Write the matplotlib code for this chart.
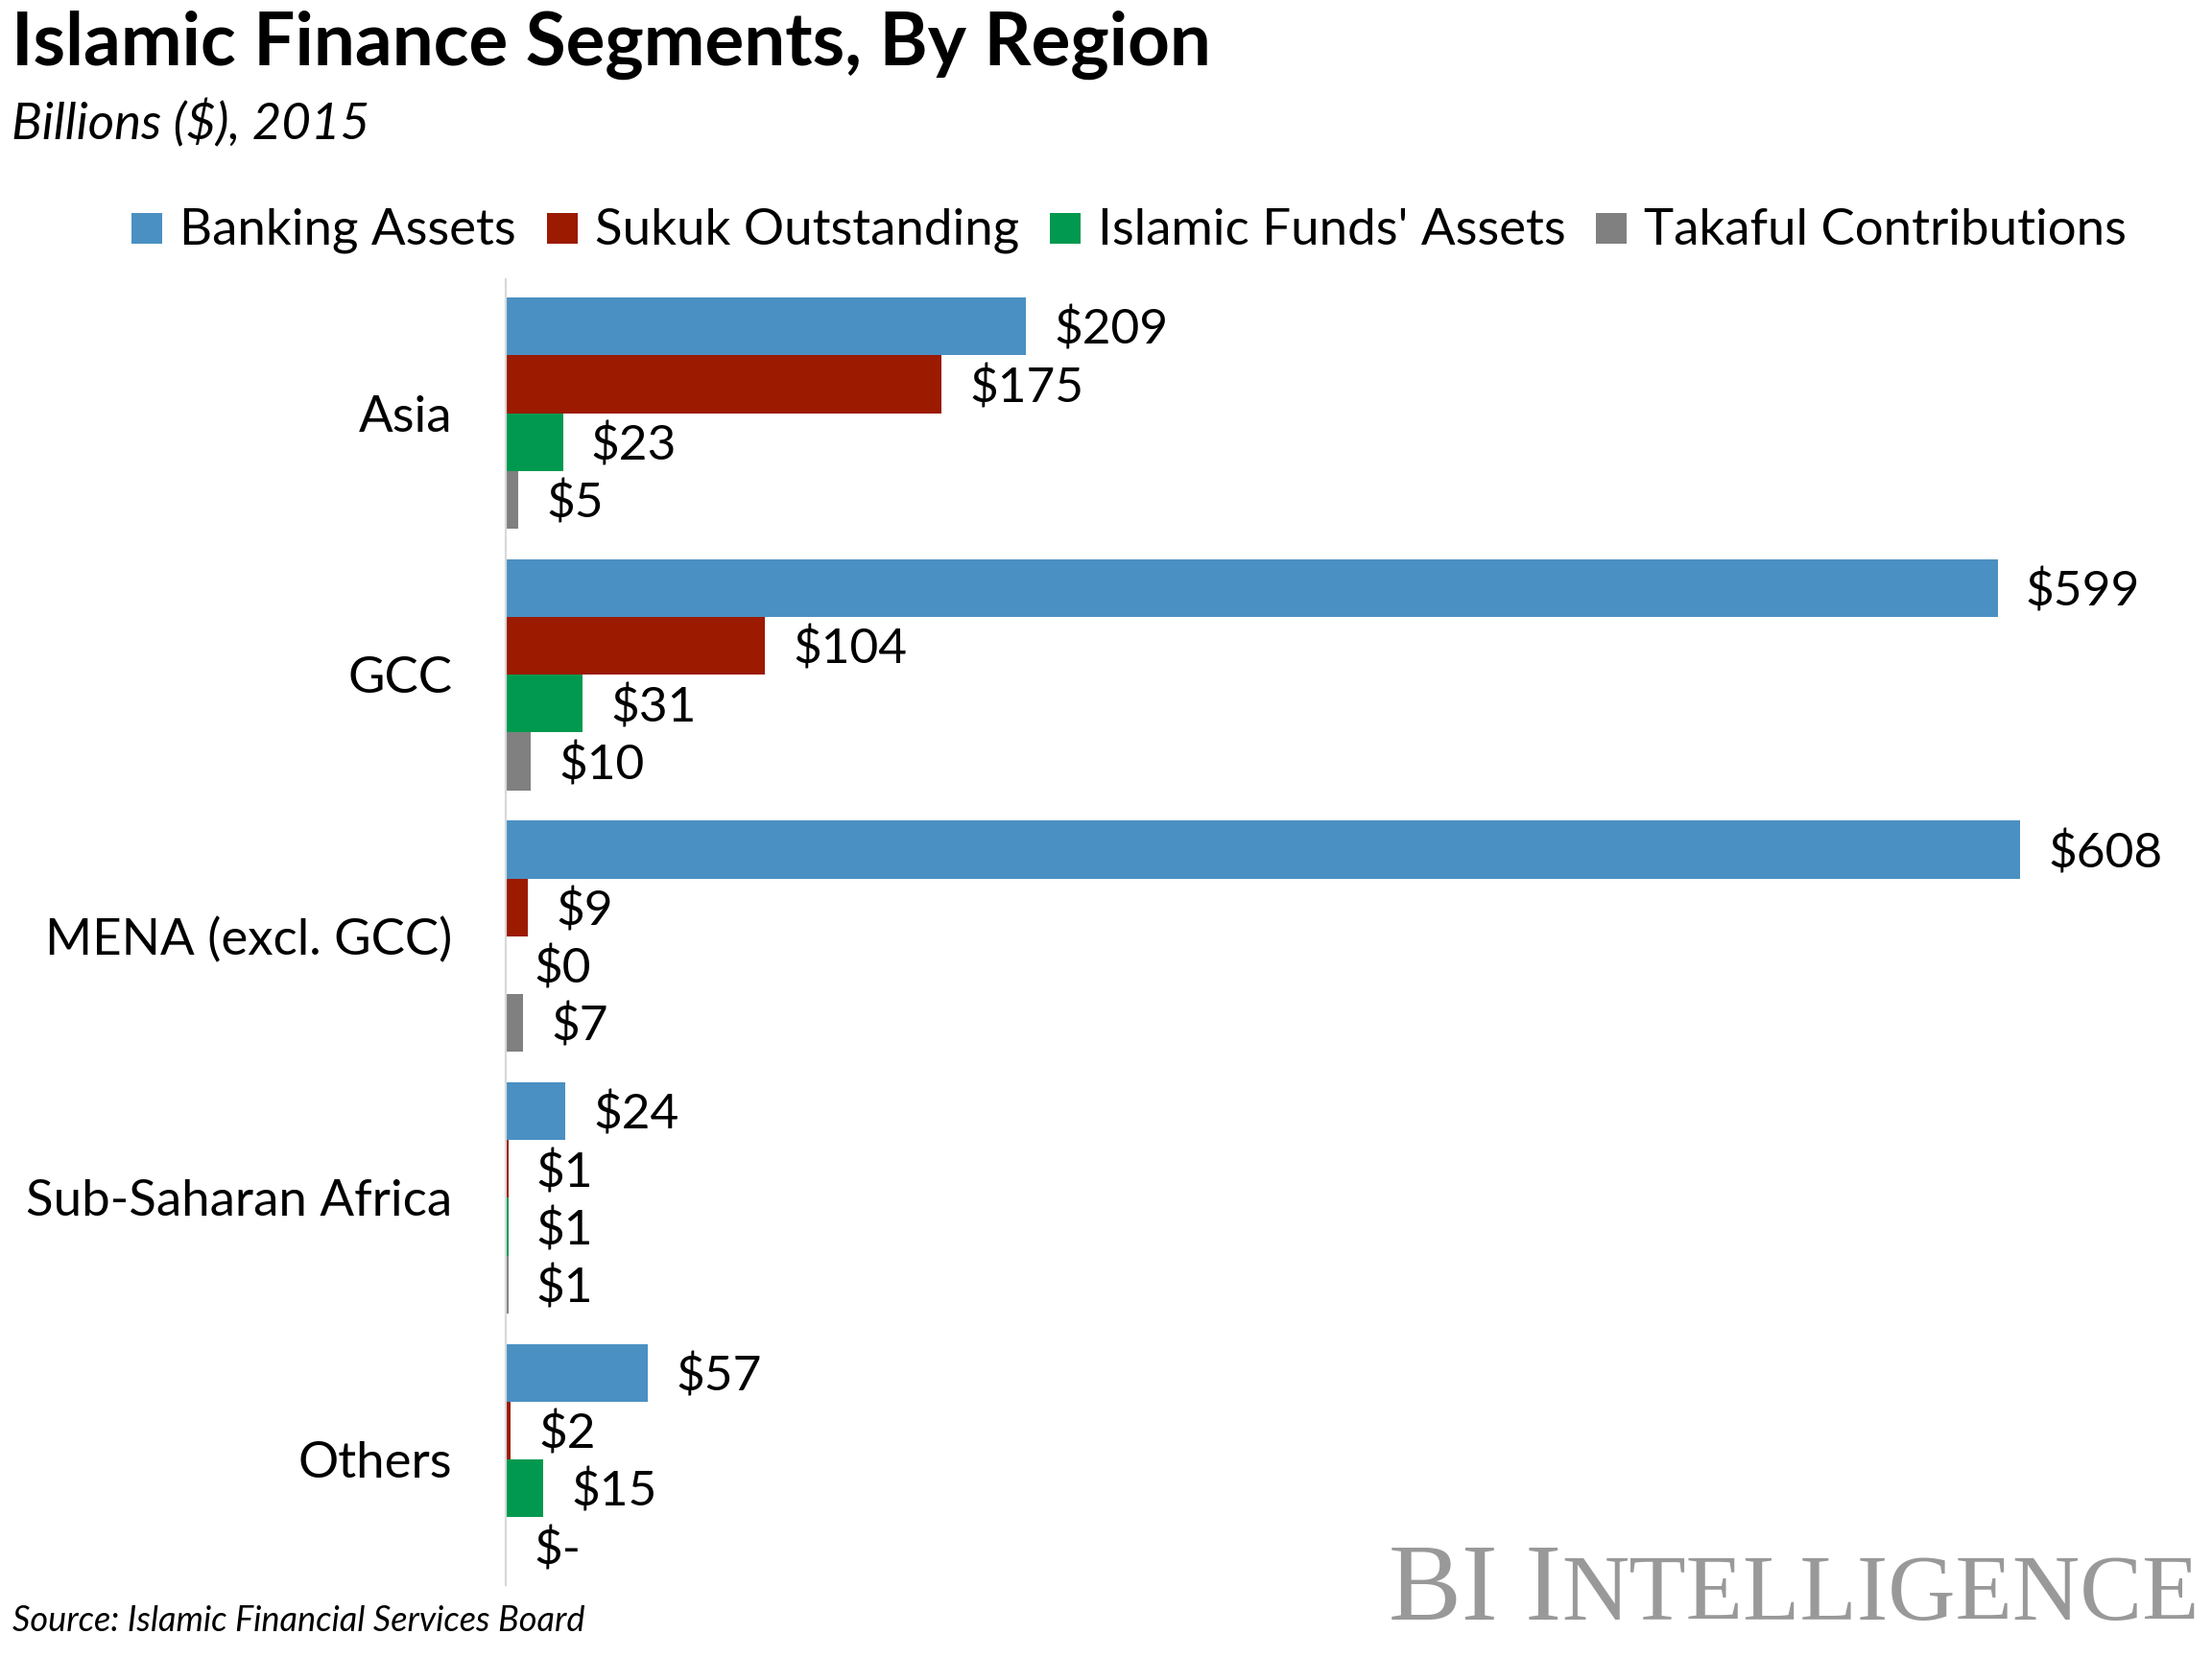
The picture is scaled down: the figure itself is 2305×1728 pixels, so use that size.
import matplotlib
matplotlib.use("Agg")
import matplotlib.pyplot as plt
from matplotlib.patches import Rectangle
import numpy as np

# data (billions $, 2015)
regions = ["Asia", "GCC", "MENA (excl. GCC)", "Sub-Saharan Africa", "Others"]
series_names = ["Banking Assets", "Sukuk Outstanding", "Islamic Funds' Assets", "Takaful Contributions"]
banking = [209, 599, 608, 24, 57]
sukuk = [175, 104, 9, 1, 2]
funds = [23, 31, 0.3, 1, 15]
takaful = [5, 10, 7, 1, 0]

colors = ["#4A90C2", "#9B1A00", "#00994F", "#808080"]
FONT = "Lato"
W, H = 2305, 1728

plt.rcParams["font.family"] = [FONT, "DejaVu Sans"]

fig = plt.figure(figsize=(W / 100, H / 100), dpi=100)
ax = fig.add_axes([527 / W, 1 - 1652 / H, 1 - 527 / W, (1652 - 291) / H])

bar_h = 0.221
y = np.arange(len(regions))
for k, vals in enumerate([banking, sukuk, funds, takaful]):
    pos = y + (k - 1.5) * bar_h
    ax.barh(pos, vals, height=bar_h, color=colors[k], linewidth=0)
    for p, v in zip(pos, vals):
        lab = "$-" if v == 0 else f"${v:.0f}"
        ax.annotate(lab, xy=(v, p), xytext=(21, -3), textcoords="offset points",
                    ha="left", va="center", fontsize=37, color="black")

ax.set_xlim(0, 685)
ax.set_ylim(4.48, -0.512)
ax.set_xticks([])
ax.set_yticks(y, regions, fontsize=38)
ax.tick_params(axis="y", length=0, pad=40)
for s in ["top", "right", "bottom"]:
    ax.spines[s].set_visible(False)
ax.spines["left"].set_color("#D9D9D9")
ax.spines["left"].set_linewidth(1.6)

# titles
fig.text(12 / W, 1 - 68 / H, "Islamic Finance Segments, By Region", fontsize=55,
         fontweight="bold", ha="left", va="baseline")
fig.text(12 / W, 1 - 145 / H, "Billions ($), 2015", fontsize=38, style="italic",
         ha="left", va="baseline")
fig.text(13 / W, 1 - 1700 / H, "Source: Islamic Financial Services Board", fontsize=26,
         style="italic", ha="left", va="baseline")

fig.canvas.draw()
r = fig.canvas.get_renderer()

# legend drawn by hand
x = 137
for name, col in zip(series_names, colors):
    fig.add_artist(Rectangle((x / W, 1 - 254 / H), 32 / W, 32 / H,
                             transform=fig.transFigure, color=col, linewidth=0))
    t = fig.text((x + 50) / W, 1 - 255 / H, name, fontsize=38, ha="left", va="baseline")
    x = t.get_window_extent(r).x1 + 32

# BI Intelligence logo in small caps
small = fig.text(2292 / W, 1 - 1688 / H, "NTELLIGENCE", fontsize=70, family="Liberation Serif",
                 color="#999999", ha="right", va="baseline")
fig.canvas.draw()
x0 = small.get_window_extent(r).x0
fig.text(x0 / W, 1 - 1688 / H, "BI I", fontsize=82, family="Liberation Serif",
         color="#999999", ha="right", va="baseline")

fig.savefig("out.png", dpi=100, facecolor="white")
